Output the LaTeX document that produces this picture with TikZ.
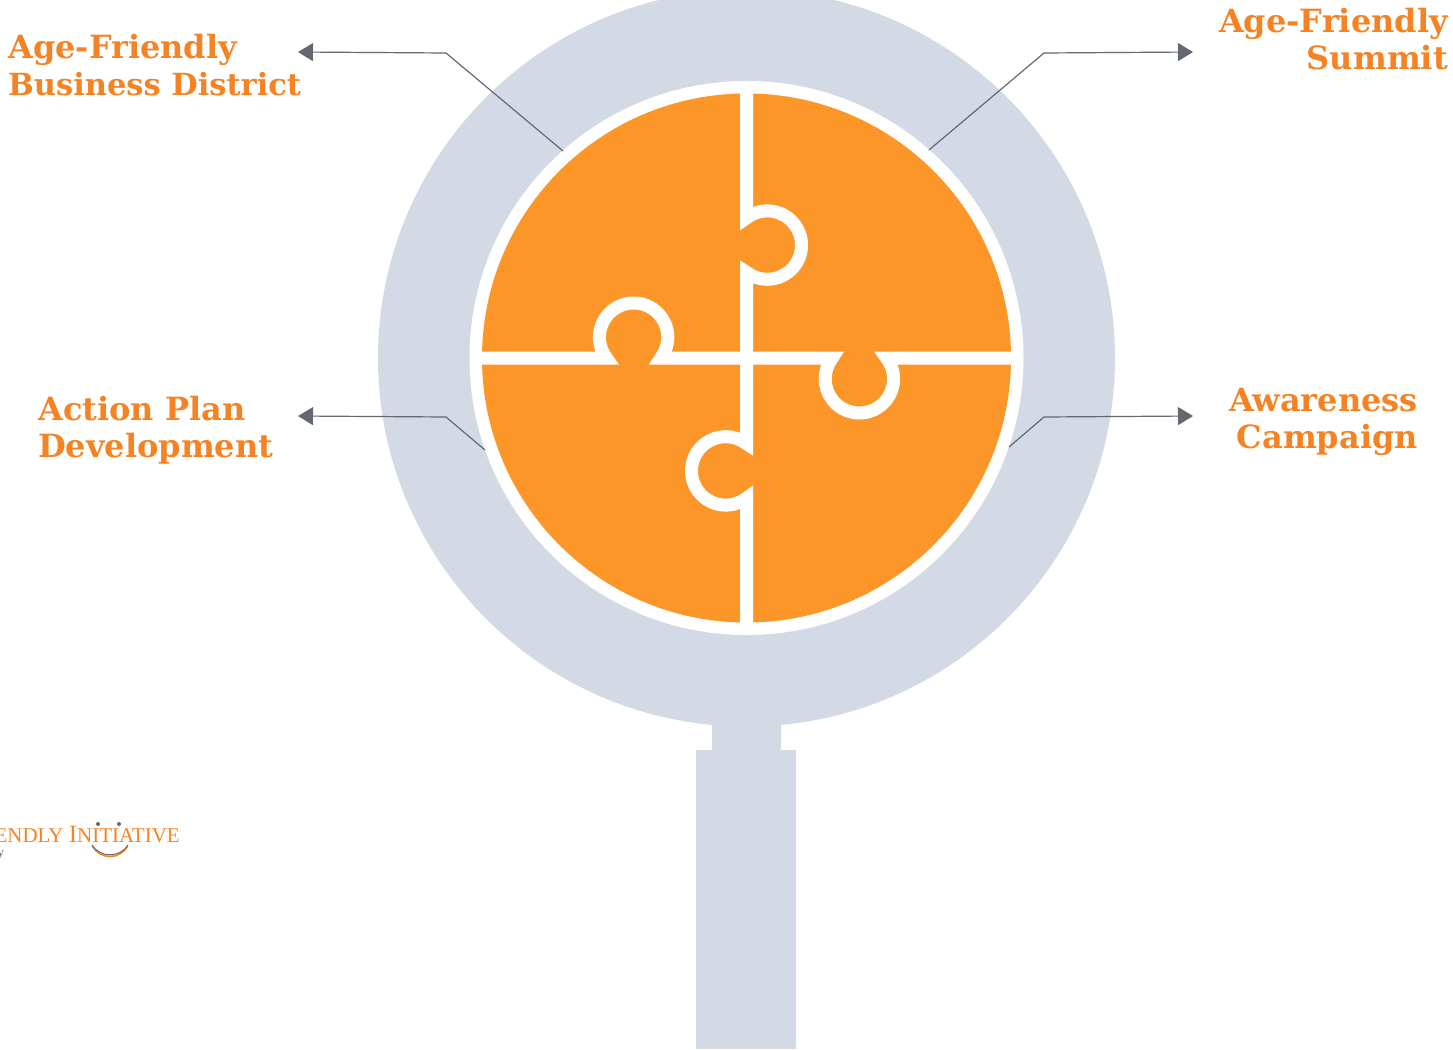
\documentclass[tikz,border=0pt]{standalone}
\usepackage{fontspec}
\usepackage{tikz}
\usetikzlibrary{arrows.meta}
\newfontfamily\labelfont{DejaVu Serif}[BoldFont={DejaVu Serif Bold}]
\newfontfamily\logofont{Liberation Serif}
\definecolor{lensgrey}{HTML}{D4DAE5}
\definecolor{pieceorange}{HTML}{FC9628}
\definecolor{labelorange}{HTML}{F58223}
\definecolor{leadgrey}{HTML}{636871}
\newcommand{\labelsize}{\fontsize{32}{37}\selectfont}
\newcommand{\labeltight}{\fontsize{30.5}{36}\selectfont}
\newcommand{\logobig}{\fontsize{25}{26}\selectfont}
\newcommand{\logosmall}{\fontsize{21}{26}\selectfont}

\begin{document}
\begin{tikzpicture}[x=1pt,y=-1pt,
  puzzlecut/.style={draw=white,line width=13pt,miter limit=10},
  leader/.style={draw=leadgrey,line width=1.2pt,-{Triangle[length=15pt,width=18pt]}},
  steplabel/.style={text=labelorange,font=\labelfont\bfseries\labelsize,inner sep=0pt}]

\clip (0,0) rectangle (1453,1049);

\fill [lensgrey] (711.7,700) rectangle (780.7,760);
\fill [lensgrey] (696,750) rectangle (796,1049);
\fill [lensgrey] (746.5,358) circle [radius=368.5];
\fill [white] (746.5,358) circle [radius=277];
\fill [pieceorange] (746.5,358) circle [radius=264.5];

\foreach \a in {0,90,180,270}
  \draw [puzzlecut,rotate around={\a:(746.5,358)}]
    (746.5,88) -- (746.5,218) arc [start angle=-127.5,end angle=127.5,radius=34.2] -- (746.5,358);

\node (bizlabel) [steplabel,anchor=north west,align=left] at (8,34) {Age-Friendly\\{\labeltight Business District}};
\node (summitlabel) [steplabel,anchor=north east,align=right] at (1448,7.5) {Age-Friendly\\Summit};
\node (planlabel) [steplabel,anchor=north west,align=left] at (38,396) {Action Plan\\Development};
\node (awarelabel) [steplabel,anchor=north east,align=right] at (1418,387.5) {Awareness\\Campaign};

\coordinate (bizstart) at (563,151);
\coordinate (bizbend) at (446,53);
\coordinate (biztip) at (298,52);
\coordinate (summitstart) at (929,150);
\coordinate (summitbend) at (1044,53);
\coordinate (summittip) at (1193,52);
\coordinate (planstart) at (485,450);
\coordinate (planbend) at (446,417);
\coordinate (plantip) at (298,416);
\coordinate (awarestart) at (1009,447);
\coordinate (awarebend) at (1044,417);
\coordinate (awaretip) at (1193,416);

\draw [leader] (bizstart) -- (bizbend) -- (biztip);
\draw [leader] (summitstart) -- (summitbend) -- (summittip);
\draw [leader] (planstart) -- (planbend) -- (plantip);
\draw [leader] (awarestart) -- (awarebend) -- (awaretip);

\node (logotext) [text=labelorange,anchor=base east,inner sep=0pt,font=\logofont\logosmall] at (180,842) {ENDLY {\logobig I}NITIATIVE};
\node (logoline) [text=leadgrey,anchor=base,inner sep=0pt,font=\logofont\fontsize{13}{14}\selectfont] at (1,856) {y};
\fill [leadgrey] (98,824) circle [radius=2] coordinate (lefteye);
\fill [leadgrey] (119,824) circle [radius=2] coordinate (righteye);
\draw [labelorange,line width=1.6pt] (92.5,846) .. controls (100,860) and (120,860) .. (127.5,846);
\draw [leadgrey,line width=1pt] (92,845) .. controls (100,858) and (120,858) .. (128,845);

\end{tikzpicture}
\end{document}
